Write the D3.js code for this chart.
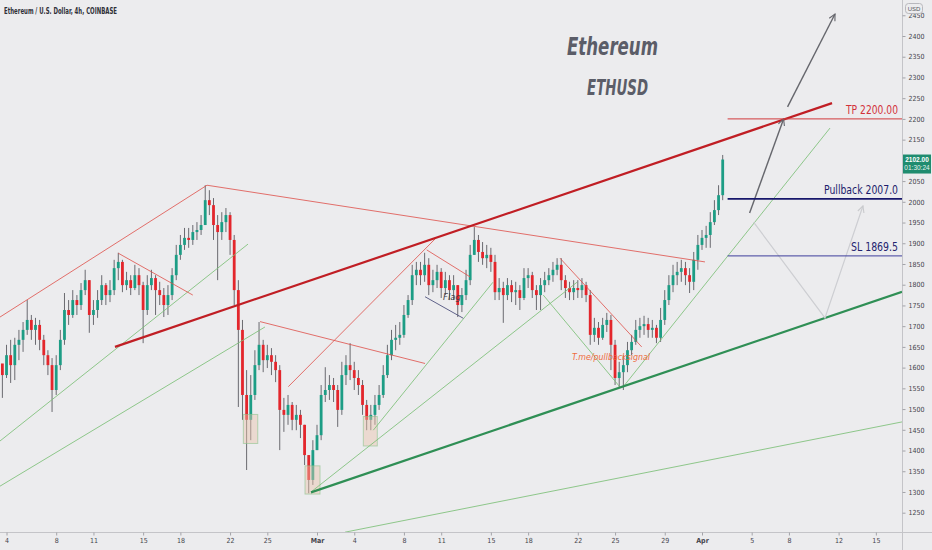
<!DOCTYPE html>
<html>
<head>
<meta charset="utf-8">
<script src="https://cdn.jsdelivr.net/npm/d3@7"></script>
<style>
  html, body { margin: 0; padding: 0; background: #ececee; }
  svg { display: block; }
  .axis text { font-family: 'Liberation Sans Narrow', 'DejaVu Sans Condensed', sans-serif; font-size: 7px; fill: #44444c; }
  .axis line { stroke: #a3a3a8; }
  .axis path { display: none; }
</style>
</head>
<body>
<svg id="chart"></svg>
<script>
// ETHUSD 8h candles, first candle Feb 3 16:00 UTC
const firstCandle = '2021-02-03T16:00';
const firstOpen = 1610;
const closes = [
  1582,1630,1606,1655,1667,1691,1715,1691,1703,1667,
  1630,1606,1546,1606,1667,1739,1727,1763,1751,1787,
  1811,1727,1739,1763,1799,1775,1787,1840,1855,1799,
  1811,1792,1823,1799,1739,1799,1816,1787,1775,1751,
  1775,1823,1872,1896,1913,1908,1927,1932,1944,2004,
  1992,1944,1927,1951,1968,1908,1787,1691,1534,1474,
  1534,1606,1655,1618,1630,1614,1594,1498,1486,1510,
  1474,1486,1462,1389,1329,1401,1437,1534,1546,1558,
  1546,1498,1582,1606,1594,1575,1558,1510,1474,1486,
  1510,1534,1582,1630,1667,1672,1679,1727,1763,1823,
  1836,1823,1848,1799,1811,1831,1792,1811,1787,1799,
  1751,1775,1811,1872,1908,1879,1864,1872,1855,1782,
  1792,1775,1799,1782,1787,1768,1816,1823,1787,1775,
  1799,1811,1823,1836,1848,1811,1792,1782,1792,1787,
  1799,1775,1679,1696,1672,1703,1715,1655,1575,1589,
  1606,1642,1662,1691,1700,1705,1691,1696,1672,1715,
  1763,1799,1823,1831,1840,1823,1807,1860,1896,1913,
  1920,1951,1980,2016,2102
];
const highs = [
  1606,1655,1667,1672,1691,1710,1763,1727,1720,1715,
  1679,1642,1623,1630,1691,1780,1763,1787,1775,1804,
  1836,1811,1763,1787,1823,1804,1811,1860,1877,1860,
  1831,1823,1848,1840,1807,1823,1836,1823,1807,1792,
  1799,1840,1896,1920,1937,1937,1944,1951,1968,2040,
  2028,2009,1968,1975,1985,1975,1920,1811,1715,1594,
  1582,1642,1710,1667,1655,1647,1630,1606,1527,1534,
  1517,1510,1498,1462,1389,1425,1462,1558,1601,1582,
  1575,1558,1614,1630,1659,1614,1594,1570,1522,1510,
  1534,1558,1606,1655,1691,1703,1710,1751,1775,1848,
  1855,1855,1877,1864,1836,1848,1840,1831,1823,1823,
  1799,1792,1836,1896,1939,1920,1903,1896,1889,1872,
  1816,1807,1816,1811,1807,1799,1840,1840,1831,1799,
  1816,1831,1840,1855,1864,1864,1823,1807,1811,1811,
  1816,1807,1787,1720,1710,1720,1732,1727,1667,1614,
  1630,1662,1679,1715,1720,1725,1720,1715,1703,1744,
  1787,1823,1848,1855,1860,1855,1840,1879,1920,1932,
  1942,1975,2004,2040,2113
];
const lows = [
  1527,1575,1563,1570,1618,1638,1679,1667,1655,1642,
  1606,1582,1493,1534,1594,1655,1703,1720,1727,1739,
  1775,1684,1703,1720,1751,1751,1758,1775,1811,1782,
  1787,1775,1787,1775,1659,1727,1787,1727,1751,1722,
  1727,1763,1811,1860,1884,1889,1896,1908,1920,1944,
  1968,1908,1811,1908,1927,1872,1751,1505,1474,1353,
  1425,1522,1594,1589,1599,1582,1565,1401,1445,1462,
  1449,1449,1430,1365,1297,1317,1401,1425,1517,1522,
  1517,1457,1486,1558,1570,1546,1534,1486,1449,1449,
  1462,1498,1527,1575,1618,1642,1655,1672,1720,1751,
  1799,1799,1807,1775,1782,1792,1768,1775,1763,1763,
  1722,1734,1763,1799,1872,1855,1848,1840,1831,1763,
  1763,1708,1763,1758,1751,1739,1763,1792,1768,1739,
  1739,1782,1799,1807,1823,1787,1768,1763,1763,1768,
  1768,1758,1655,1662,1655,1667,1686,1594,1558,1551,
  1546,1589,1630,1655,1672,1679,1672,1672,1659,1662,
  1703,1751,1782,1799,1807,1799,1780,1787,1836,1884,
  1889,1889,1944,1968,2004
];

// axis ticks
const priceTicks = [1250,1300,1350,1400,1450,1500,1550,1600,1650,1700,1750,1800,1850,
  1900,1950,2000,2050,2150,2200,2250,2300,2350,2400,2450];
const timeTicks = ['2021-02-04','2021-02-08','2021-02-11','2021-02-15','2021-02-18','2021-02-22',
  '2021-02-25','2021-03-01','2021-03-04','2021-03-08','2021-03-11','2021-03-15','2021-03-18',
  '2021-03-22','2021-03-25','2021-03-29','2021-04-01','2021-04-05','2021-04-08','2021-04-12','2021-04-15'];

// drawings: [startTime, startPrice, endTime, endPrice]
const thinRedLines = [
  ['2021-02-03T11:24', 1722, '2021-02-20T03:24', 2040],
  ['2021-02-20T03:24', 2040, '2021-04-01T05:46', 1855],
  ['2021-02-13T00:00', 1876, '2021-02-19T00:00', 1775],
  ['2021-02-24T09:50', 1711, '2021-03-09T16:45', 1610],
  ['2021-02-26T16:33', 1554, '2021-03-10T15:50', 1915],
  ['2021-03-09T20:00', 1884, '2021-03-13T07:40', 1819],
  ['2021-03-20T13:40', 1864, '2021-03-27T03:30', 1650]
];
const thickRedLines = [['2021-02-12T17:38', 1650, '2021-04-11T11:17', 2238]];
const thinGreenLines = [
  ['2021-02-03T11:24', 1423, '2021-02-23T10:40', 1898],
  ['2021-02-03T11:24', 1314, '2021-02-24T19:25', 1698],
  ['2021-03-03T06:07', 1203, '2021-04-17T02:31', 1469],
  ['2021-03-05T12:47', 1449, '2021-03-15T04:05', 1806],
  ['2021-02-28T12:24', 1300, '2021-03-21T22:30', 1806],
  ['2021-03-19T05:17', 1775, '2021-03-25T09:36', 1553],
  ['2021-03-25T15:18', 1553, '2021-04-11T07:25', 2178]
];
const thickGreenLines = [['2021-02-28T12:24', 1299, '2021-04-17T02:31', 1783]];
const flagLines = [['2021-03-09T16:45', 1771, '2021-03-12T18:43', 1719]];
const projectionArrows = [
  ['2021-04-04T20:00', 1973, '2021-04-07T13:40', 2200],
  ['2021-04-07T21:20', 2229, '2021-04-11T17:00', 2453]
];
const pullbackPath = [['2021-04-05T03:40', 1951], ['2021-04-10T21:40', 1720], ['2021-04-13T23:00', 1990]];
// zones: [startTime, endTime, lowPrice, highPrice]
const zones = [
  ['2021-02-23T01:40', '2021-02-24T05:30', 1417, 1487],
  ['2021-02-28T00:50', '2021-03-01T05:48', 1295, 1363],
  ['2021-03-04T17:30', '2021-03-05T20:30', 1411, 1482]
];
const levelStart = '2021-04-03T01:30';
const levelNames = ['TP 2200.00', 'Pullback 2007.0', 'SL 1869.5'];
const levelPrices = [2200, 2007, 1869.5];
const lastPrice = 2102;

const t = s => new Date(s + (s.length === 10 ? 'T00:00Z' : 'Z'));

class CandleChart {

  constructor(_config) {
    this.config = {
      parentElement: _config.parentElement,
      containerWidth: _config.containerWidth || 932,
      containerHeight: _config.containerHeight || 550,
      plotWidth: _config.plotWidth || 902,
      plotHeight: _config.plotHeight || 532
    };
    this.initVis();
  }

  initVis() {
    let vis = this;

    vis.svg = d3.select(vis.config.parentElement)
        .attr('width', vis.config.containerWidth)
        .attr('height', vis.config.containerHeight);

    // time and price scales (TradingView style, extrapolated outside the anchors)
    vis.xScale = d3.scaleUtc()
        .domain([t('2021-03-01'), t('2021-04-01')])
        .range([317, 702]);
    vis.yScale = d3.scaleLinear()
        .domain([1250, 2400])
        .range([512.7, 36]);

    const defs = vis.svg.append('defs');
    defs.append('clipPath').attr('id', 'plotClip')
      .append('rect')
        .attr('width', vis.config.plotWidth)
        .attr('height', vis.config.plotHeight);

    [['arrowDark', '#66676d'], ['arrowLight', '#c9cacd']].forEach(([id, col]) => {
      defs.append('marker')
          .attr('id', id)
          .attr('viewBox', '0 0 10 10')
          .attr('refX', 9).attr('refY', 5)
          .attr('markerWidth', 8).attr('markerHeight', 8)
          .attr('markerUnits', 'userSpaceOnUse')
          .attr('orient', 'auto')
        .append('path')
          .attr('d', 'M1,1 L9,5 L1,9')
          .attr('fill', 'none')
          .attr('stroke', col)
          .attr('stroke-width', 1.4);
    });

    vis.plot = vis.svg.append('g').attr('clip-path', 'url(#plotClip)');

    vis.candles = closes.map((c, i) => ({
      date: new Date(t(firstCandle).getTime() + i * 8 * 3600 * 1000),
      open: i === 0 ? firstOpen : closes[i - 1],
      high: highs[i],
      low: lows[i],
      close: c
    }));

    vis.renderVis();
  }

  drawSegments(data, stroke, width, opacity, marker) {
    let vis = this;
    const sel = vis.plot.append('g').selectAll('line')
        .data(data)
      .join('line')
        .attr('x1', d => vis.xScale(t(d[0])))
        .attr('y1', d => vis.yScale(d[1]))
        .attr('x2', d => vis.xScale(t(d[2])))
        .attr('y2', d => vis.yScale(d[3]))
        .attr('stroke', stroke)
        .attr('stroke-width', width)
        .attr('stroke-opacity', opacity);
    if (marker) sel.attr('marker-end', `url(#${marker})`);
  }

  renderVis() {
    let vis = this;
    const x = vis.xScale, y = vis.yScale;
    const W = vis.config.plotWidth, H = vis.config.plotHeight;

    // candles
    const cg = vis.plot.append('g');
    cg.selectAll('.wick')
        .data(vis.candles)
      .join('line')
        .attr('class', 'wick')
        .attr('x1', d => x(d.date)).attr('x2', d => x(d.date))
        .attr('y1', d => y(d.high)).attr('y2', d => y(d.low))
        .attr('stroke', '#6a6a70')
        .attr('stroke-width', 1);
    cg.selectAll('.body')
        .data(vis.candles)
      .join('rect')
        .attr('class', 'body')
        .attr('x', d => x(d.date) - 1.4)
        .attr('width', 2.8)
        .attr('y', d => y(Math.max(d.open, d.close)))
        .attr('height', d => Math.max(1, Math.abs(y(d.open) - y(d.close))))
        .attr('fill', d => d.close >= d.open ? '#1d9d85' : '#e3262c');

    // zones
    vis.plot.append('g').selectAll('rect')
        .data(zones)
      .join('rect')
        .attr('x', d => x(t(d[0])))
        .attr('width', d => x(t(d[1])) - x(t(d[0])))
        .attr('y', d => y(d[3]))
        .attr('height', d => y(d[2]) - y(d[3]))
        .attr('fill', 'rgba(236,196,170,0.45)')
        .attr('stroke', 'rgba(140,195,140,0.6)')
        .attr('stroke-width', 1);

    // trend lines
    vis.drawSegments(thinGreenLines, '#7dbf78', 1, 0.85);
    vis.drawSegments(thinRedLines, '#df4f48', 1, 0.8);
    vis.drawSegments(flagLines, '#50537e', 1, 0.9);
    vis.drawSegments(thickGreenLines, '#2f8f55', 2.2, 1);
    vis.drawSegments(thickRedLines, '#c01e24', 2.2, 1);

    // projected path
    vis.plot.append('path')
        .datum(pullbackPath)
        .attr('d', d3.line().x(d => x(t(d[0]))).y(d => y(d[1])))
        .attr('fill', 'none')
        .attr('stroke', '#cdced2')
        .attr('stroke-width', 1.2)
        .attr('marker-end', 'url(#arrowLight)');
    vis.drawSegments(projectionArrows, '#66676d', 1.4, 1, 'arrowDark');

    // levels
    const lvl = vis.plot.append('g');
    const lvlColors = ['#d2383c', '#17176b', '#3d3d9c'];
    const lvlText = ['#d3323a', '#1c1c6c', '#24246f'];
    const lvlWidth = [1, 1.8, 1];
    const lvlLength = [52, 74, 47];
    lvl.selectAll('line')
        .data(levelPrices)
      .join('line')
        .attr('x1', x(t(levelStart))).attr('x2', W)
        .attr('y1', d => y(d)).attr('y2', d => y(d))
        .attr('stroke', (d, i) => lvlColors[i])
        .attr('stroke-width', (d, i) => lvlWidth[i]);
    lvl.selectAll('text')
        .data(levelPrices)
      .join('text')
        .attr('x', 898)
        .attr('y', d => y(d) - 5)
        .attr('text-anchor', 'end')
        .attr('font-family', "'Liberation Sans Narrow', 'DejaVu Sans Condensed', sans-serif")
        .attr('font-size', 12.5)
        .attr('textLength', (d, i) => lvlLength[i])
        .attr('lengthAdjust', 'spacingAndGlyphs')
        .attr('fill', (d, i) => lvlText[i])
        .text((d, i) => levelNames[i]);

    // notes
    vis.plot.append('text')
        .attr('x', x(t('2021-03-11T03:30')))
        .attr('y', y(1763))
        .attr('font-family', "'DejaVu Sans', sans-serif")
        .attr('font-style', 'italic')
        .attr('font-size', 8.5)
        .attr('fill', '#3d3d45')
        .text('Flag');
    vis.plot.append('text')
        .attr('x', x(t('2021-03-21T12:45')))
        .attr('y', y(1618))
        .attr('font-family', "'DejaVu Sans', sans-serif")
        .attr('font-style', 'italic')
        .attr('font-size', 9)
        .attr('textLength', 78)
        .attr('lengthAdjust', 'spacingAndGlyphs')
        .attr('fill', '#ef6a3c')
        .text('T.me/pullbacksignal');

    // axes frame
    vis.svg.append('line')
        .attr('x1', 0).attr('x2', vis.config.containerWidth)
        .attr('y1', H + 0.5).attr('y2', H + 0.5)
        .attr('stroke', '#c4c4c8');
    vis.svg.append('line')
        .attr('x1', W + 0.5).attr('x2', W + 0.5)
        .attr('y1', 0).attr('y2', vis.config.containerHeight)
        .attr('stroke', '#c4c4c8');

    vis.xAxisG = vis.svg.append('g')
        .attr('class', 'axis x-axis')
        .attr('transform', `translate(0,${H + 0.5})`)
        .call(d3.axisBottom(x)
          .tickValues(timeTicks.map(t))
          .tickSize(3)
          .tickFormat(d => d.getUTCDate() === 1 ? d3.utcFormat('%b')(d) : d3.utcFormat('%-d')(d)));
    vis.xAxisG.selectAll('text')
        .filter(d => d.getUTCDate() === 1)
        .attr('font-weight', 'bold');

    vis.yAxisG = vis.svg.append('g')
        .attr('class', 'axis y-axis')
        .attr('transform', `translate(${W + 0.5},0)`)
        .call(d3.axisRight(y)
          .tickValues(priceTicks)
          .tickSize(3)
          .tickFormat(d3.format('d')));

    // last price tag
    const py = y(lastPrice);
    vis.svg.append('rect')
        .attr('x', W + 1).attr('y', py - 5)
        .attr('width', 28).attr('height', 19)
        .attr('fill', '#1f8c6f');
    vis.svg.append('text')
        .attr('x', W + 15).attr('y', py + 2.8)
        .attr('text-anchor', 'middle')
        .attr('font-family', "'Liberation Sans Narrow', sans-serif")
        .attr('font-size', 6.5).attr('font-weight', 'bold')
        .attr('fill', '#ffffff')
        .text(d3.format('.2f')(lastPrice));
    vis.svg.append('text')
        .attr('x', W + 15).attr('y', py + 10)
        .attr('text-anchor', 'middle')
        .attr('font-family', "'Liberation Sans Narrow', sans-serif")
        .attr('font-size', 6.5)
        .attr('fill', '#e6f3ef')
        .text('01:30:24');

    // currency badge
    vis.svg.append('rect')
        .attr('x', 905.5).attr('y', 3.5)
        .attr('width', 17).attr('height', 10).attr('rx', 3)
        .attr('fill', '#ececee').attr('stroke', '#b8b8bd');
    vis.svg.append('text')
        .attr('x', 914).attr('y', 11)
        .attr('text-anchor', 'middle')
        .attr('font-family', "'Liberation Sans Narrow', sans-serif")
        .attr('font-size', 6)
        .attr('fill', '#55555c')
        .text('USD');

    // header and titles
    vis.svg.append('text')
        .attr('x', 4).attr('y', 14)
        .attr('font-family', "'Liberation Sans Narrow', 'DejaVu Sans Condensed', sans-serif")
        .attr('font-size', 9).attr('font-weight', 'bold')
        .attr('textLength', 113).attr('lengthAdjust', 'spacingAndGlyphs')
        .attr('fill', '#2f3038')
        .text('Ethereum / U.S. Dollar, 4h, COINBASE');
    vis.svg.append('text')
        .attr('x', 567).attr('y', 55)
        .attr('font-family', "'Liberation Sans Narrow', 'DejaVu Sans Condensed', sans-serif")
        .attr('font-size', 25).attr('font-weight', 'bold').attr('font-style', 'italic')
        .attr('textLength', 91).attr('lengthAdjust', 'spacingAndGlyphs')
        .attr('fill', '#5b5d68')
        .text('Ethereum');
    vis.svg.append('text')
        .attr('x', 587).attr('y', 95)
        .attr('font-family', "'Liberation Sans Narrow', 'DejaVu Sans Condensed', sans-serif")
        .attr('font-size', 22).attr('font-weight', 'bold').attr('font-style', 'italic')
        .attr('textLength', 61).attr('lengthAdjust', 'spacingAndGlyphs')
        .attr('fill', '#5b5d68')
        .text('ETHUSD');
  }
}

new CandleChart({ parentElement: '#chart' });
</script>
</body>
</html>
